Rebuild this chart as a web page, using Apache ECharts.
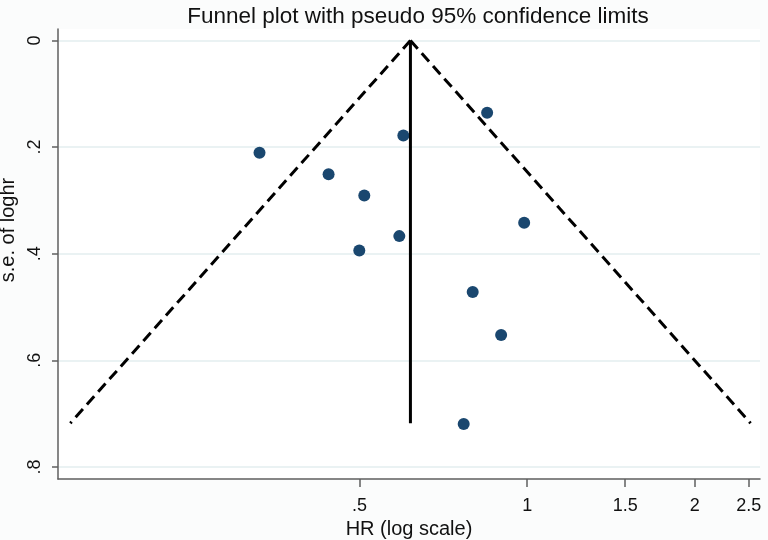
<!DOCTYPE html>
<html><head><meta charset="utf-8">
<script src="https://cdn.jsdelivr.net/npm/echarts@6/dist/echarts.min.js"></script>
<style>html,body{margin:0;padding:0;background:#fbfcfc}#c{width:768px;height:540px}</style>
</head><body><div id="c"></div>
<script>
// study estimates (hazard ratio and standard error of log HR)
const studyHR = [0.3305, 0.4398, 0.5098, 0.5992, 0.8474, 0.5893, 0.4994, 0.9877, 0.7983, 0.8979, 0.7691];
const studySE = [0.2105, 0.251, 0.291, 0.178, 0.1355, 0.367, 0.394, 0.342, 0.472, 0.5525, 0.7195];
// pooled estimate line
const pooledHR = [0.617, 0.617];
const pooledSE = [0, 0.718];
// pseudo 95% confidence limits
const lowerLimitHR = [0.617, 0.1511];
const upperLimitHR = [0.617, 2.520];
const limitSE = [0, 0.718];
// axis ticks
const xTickValues = [0.5, 1, 1.5, 2, 2.5];
const xTickLabels = ['.5', '1', '1.5', '2', '2.5'];
const yTickValues = [0, 0.2, 0.4, 0.6, 0.8];
const yTickLabels = ['0', '.2', '.4', '.6', '.8'];
const xRange = [0.1436, 2.62];
const yRange = [-0.0216, 0.8227];

const FONT = '"Liberation Sans", Arial, sans-serif';
const chart = echarts.init(document.getElementById('c'), null, {renderer: 'canvas'});
const toPts = (hr, se) => hr.map((h, i) => [Math.log(h), se[i]]);
const xLogTicks = xTickValues.map(v => Math.log(v));
const xLabelFor = v => {
  let best = 0;
  xLogTicks.forEach((t, i) => { if (Math.abs(t - v) < Math.abs(xLogTicks[best] - v)) best = i; });
  return xTickLabels[best];
};
const yLabelFor = v => {
  let best = 0;
  yTickValues.forEach((t, i) => { if (Math.abs(t - v) < Math.abs(yTickValues[best] - v)) best = i; });
  return yTickLabels[best];
};
const axisColor = '#5f5f5f';
const option = {
  backgroundColor: '#fbfcfc',
  animation: false,
  title: {
    text: 'Funnel plot with pseudo 95% confidence limits',
    left: 413, top: 0, textAlign: 'center',
    textStyle: {fontFamily: FONT, fontSize: 22.5, fontWeight: 'normal', color: '#111'}
  },
  grid: {left: 58, right: 8, top: 29, bottom: 61, show: true, backgroundColor: '#ffffff', borderWidth: 0,
    containLabel: false, outerBoundsMode: 'none'},
  xAxis: {
    type: 'value',
    min: Math.log(xRange[0]), max: Math.log(xRange[1]),
    name: 'HR (log scale)', nameLocation: 'middle', nameGap: 35,
    nameTextStyle: {fontFamily: FONT, fontSize: 20, color: '#111'},
    axisLine: {show: true, onZero: false, lineStyle: {color: axisColor, width: 1.5}},
    axisTick: {show: true, length: 8, customValues: xLogTicks, lineStyle: {color: axisColor, width: 1.5}},
    axisLabel: {customValues: xLogTicks, formatter: v => xLabelFor(v), margin: 18,
      fontFamily: FONT, fontSize: 18, color: '#111'},
    splitLine: {show: false}
  },
  yAxis: {
    type: 'value', inverse: true,
    min: yRange[0], max: yRange[1],
    name: 's.e. of loghr', nameLocation: 'middle', nameGap: 33,
    nameTextStyle: {fontFamily: FONT, fontSize: 20, color: '#111', padding: [0, 0, 0, 48]},
    axisLine: {show: true, onZero: false, lineStyle: {color: axisColor, width: 1.5}},
    axisTick: {show: true, length: 6, customValues: yTickValues, lineStyle: {color: axisColor, width: 1.5}},
    axisLabel: {customValues: yTickValues, formatter: v => yLabelFor(v), rotate: 90, margin: 14,
      fontFamily: FONT, fontSize: 18, color: '#111'},
    splitLine: {show: true, lineStyle: {color: '#eaf2f3', width: 2}}
  },
  series: [
    {type: 'line', data: toPts(lowerLimitHR, limitSE), symbol: 'none', silent: true,
      lineStyle: {color: '#000', width: 3, type: [11, 6]}},
    {type: 'line', data: toPts(upperLimitHR, limitSE), symbol: 'none', silent: true,
      lineStyle: {color: '#000', width: 3, type: [11, 6]}},
    {type: 'line', data: toPts(pooledHR, pooledSE), symbol: 'none', silent: true,
      lineStyle: {color: '#000', width: 3}},
    {type: 'scatter', data: toPts(studyHR, studySE), symbol: 'circle', symbolSize: 12,
      itemStyle: {color: '#1a476f', opacity: 1}}
  ]
};
chart.setOption(option);
</script>
</body></html>
